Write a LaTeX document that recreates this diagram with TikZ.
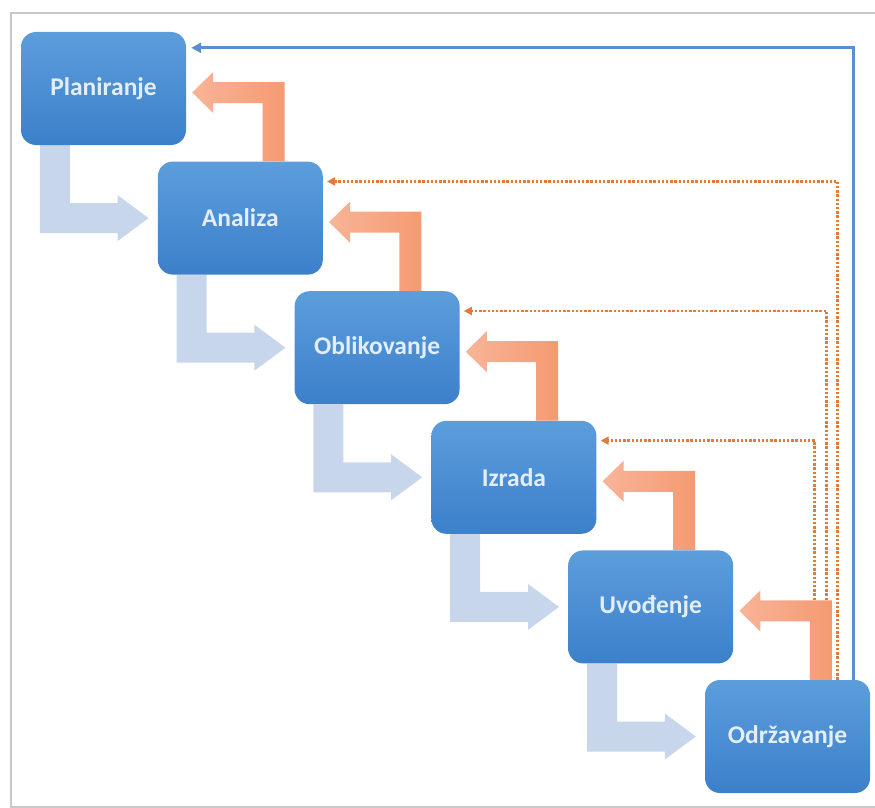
\documentclass[tikz,border=0pt]{standalone}
\usepackage{fontspec}
\setmainfont{Carlito}
\usetikzlibrary{calc,arrows.meta}
\definecolor{boxtop}{HTML}{5C9DDB}
\definecolor{boxbot}{HTML}{3C80CB}
\definecolor{boxtext}{HTML}{E3EEFA}
\definecolor{fwd}{HTML}{C8D6EC}
\definecolor{backd}{HTML}{F59A72}
\definecolor{backl}{HTML}{F8B497}
\definecolor{dotc}{HTML}{E27A3A}
\definecolor{ret}{HTML}{5B8ED0}
\definecolor{framec}{HTML}{C8C8C8}
\pgfdeclarelayer{bg}
\pgfsetlayers{bg,main}
\begin{document}
\begin{tikzpicture}[x=1pt,y=-1pt,
  box/.style={rounded corners=15pt, minimum width=165pt, minimum height=113pt,
    inner sep=0pt, top color=boxtop, bottom color=boxbot, text=boxtext,
    font=\fontsize{25.5}{30}\selectfont\bfseries},
  fwdarrow/.style={fill=fwd},
  backarrow/.style={left color=backl, right color=backd},
  dotline/.style={draw=dotc, line width=2.8pt, dash pattern=on 2.4pt off 1.8pt,
    -{Triangle[length=8pt,width=8pt]}},
  retline/.style={draw=ret, line width=3pt, -{Triangle[length=10pt,width=10pt]}},
  framebox/.style={draw=framec, line width=2.5pt}]
\useasboundingbox (0,0) rectangle (875,808);
\clip (0,0) rectangle (875,808);
\foreach \i/\t in {0/Planiranje,1/Analiza,2/Oblikovanje,3/Izrada,4/Uvođenje,5/Održavanje}{
  \node[box] (b\i) at ({103.5+136.8*\i},{88.5+129.6*\i}) {\t};
}
\begin{pgfonlayer}{bg}
  \draw[framebox] (11,13) rectangle (890,807);
  % dotted feedback lines
  \draw[dotline] ($(b5.north west)+(133,0)$) |- ($(b1.north east)+(4,20)$);
  \draw[dotline] ($(b5.north west)+(122,0)$) |- ($(b2.north east)+(4,20)$);
  \draw[dotline] ($(b5.north west)+(110,0)$) |- ($(b3.north east)+(4,20)$);
  % return line
  \draw[retline] ($(b5.north east)+(-17,0)$) |- ($(b0.north east)+(5,16)$);
  % forward arrows
  \foreach \i in {0,...,4}{
    \pgfmathtruncatemacro\j{\i+1}
    \coordinate (A) at ($(b\i.south west)+(19,0)$);
    \coordinate (B) at ($(b\i.south west)+(49,0)$);
    \coordinate (T) at ($(b\j.west)+(-9,0)$);
    \fill[fwdarrow] (A) -- ($(A|-T)+(0,15)$) -- ($(T)+(-31,15)$) -- ($(T)+(-31,23)$)
      -- (T) -- ($(T)+(-31,-23)$) -- ($(T)+(-31,-15)$) -- ($(B|-T)+(0,-15)$) -- (B) -- cycle;
  }
  % backward arrows
  \foreach \i in {1,...,5}{
    \pgfmathtruncatemacro\j{\i-1}
    \coordinate (A) at ($(b\i.north west)+(105,0)$);
    \coordinate (B) at ($(b\i.north west)+(127,0)$);
    \coordinate (T) at ($(b\j.east)+(6,4)$);
    \shade[backarrow] (A) -- ($(A|-T)+(0,10.5)$) -- ($(T)+(21,10.5)$) -- ($(T)+(21,20.5)$)
      -- (T) -- ($(T)+(21,-20.5)$) -- ($(T)+(21,-10.5)$) -- ($(B|-T)+(0,-10.5)$) -- (B) -- cycle;
  }
\end{pgfonlayer}
\end{tikzpicture}
\end{document}
